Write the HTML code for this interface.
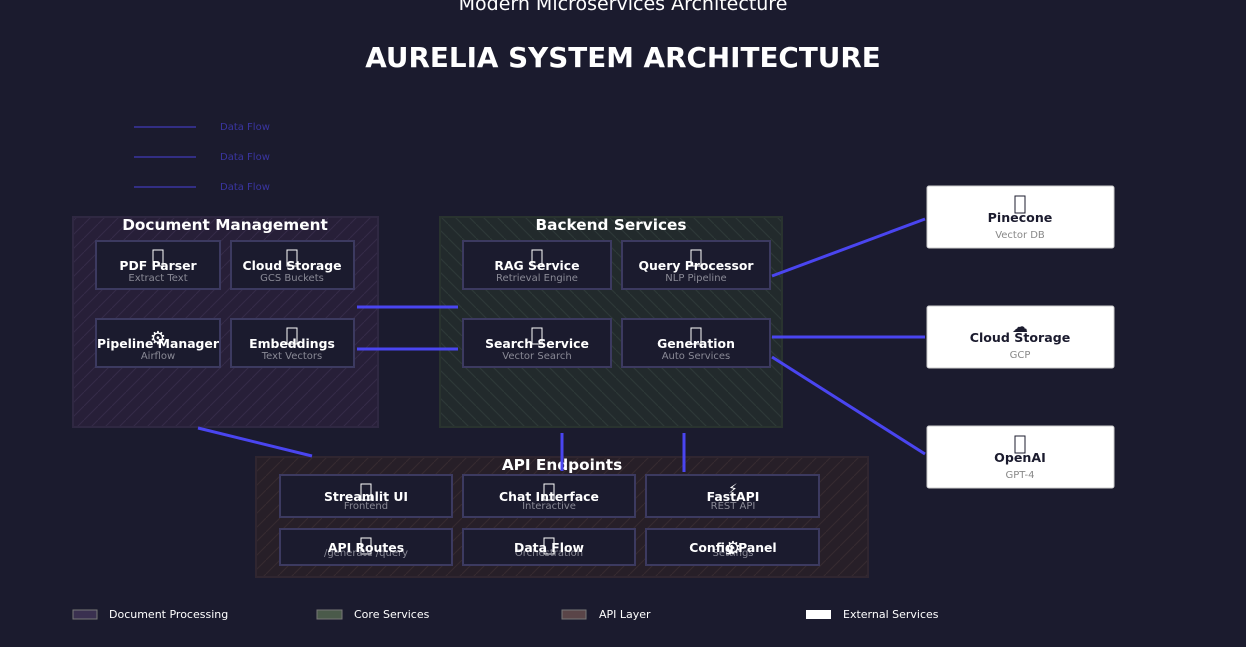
<!DOCTYPE html>
<html><head><meta charset="utf-8"><style>
html,body{margin:0;padding:0;background:#1b1b2e;}
svg{display:block;font-family:"DejaVu Sans","Liberation Sans",sans-serif;}
.nt{fill:#fff;font-weight:bold;font-size:12.4px;text-anchor:middle}
.ns{fill:#8a8a96;font-size:10px;text-anchor:middle}
.nb{fill:#1b1b2e;stroke:#3c3a60;stroke-width:2}
.gt{fill:#fff;font-weight:bold;font-size:15.3px;text-anchor:middle}
.ic{fill:none;stroke:#fff;stroke-width:1}
.ln{stroke:#4a45f0;stroke-width:3;fill:none}
.et{fill:#1b1b2e;font-weight:bold;font-size:12.6px;text-anchor:middle}
.es{fill:#888;font-size:10px;text-anchor:middle}
.lg{fill:#fff;font-size:11px}
</style></head><body>
<svg width="1246" height="647" viewBox="0 0 1246 647">
<defs>
<pattern id="h1" width="14" height="14" patternUnits="userSpaceOnUse"><path d="M0 14L14 0" stroke="#352a48" stroke-width="1"/></pattern>
<pattern id="h2" width="14" height="14" patternUnits="userSpaceOnUse"><path d="M0 0L14 14" stroke="#2e3a38" stroke-width="1"/></pattern>
<pattern id="h3" width="14" height="14" patternUnits="userSpaceOnUse"><path d="M0 14L14 0" stroke="#362a30" stroke-width="1"/></pattern>
</defs>
<text x="623" y="10" fill="#fff" font-size="19" text-anchor="middle">Modern Microservices Architecture</text>
<text x="623" y="67" fill="#fff" font-size="27.8" font-weight="bold" text-anchor="middle">AURELIA SYSTEM ARCHITECTURE</text>

<g stroke="#3a35a0" stroke-width="1.5"><line x1="134" y1="127" x2="196" y2="127"/><line x1="134" y1="157" x2="196" y2="157"/><line x1="134" y1="187" x2="196" y2="187"/></g>
<g fill="#3a35a0" font-size="10"><text x="220" y="130">Data Flow</text><text x="220" y="160">Data Flow</text><text x="220" y="190">Data Flow</text></g>

<rect x="73" y="217" width="305" height="210" fill="#271f38"/><rect x="73" y="217" width="305" height="210" fill="url(#h1)" stroke="#2f2842" stroke-width="2"/>
<rect x="440" y="217" width="342" height="210" fill="#222a2c"/><rect x="440" y="217" width="342" height="210" fill="url(#h2)" stroke="#29332f" stroke-width="2"/>
<rect x="256" y="457" width="612" height="120" fill="#271f28"/><rect x="256" y="457" width="612" height="120" fill="url(#h3)" stroke="#302630" stroke-width="2"/>
<text class="gt" x="225" y="230">Document Management</text>
<text class="gt" x="611" y="230">Backend Services</text>
<text class="gt" x="562" y="470">API Endpoints</text>

<g>
<rect class="nb" x="96" y="241" width="124" height="48"/><rect class="ic" x="153" y="250" width="10" height="16"/><text class="nt" x="158" y="270">PDF Parser</text><text class="ns" x="158" y="281">Extract Text</text>
<rect class="nb" x="231" y="241" width="123" height="48"/><rect class="ic" x="287" y="250" width="10" height="16"/><text class="nt" x="292" y="270">Cloud Storage</text><text class="ns" x="292" y="281">GCS Buckets</text>
<rect class="nb" x="96" y="319" width="124" height="48"/><text x="158" y="344" fill="#fff" font-size="18" text-anchor="middle">⚙</text><text class="nt" x="158" y="348">Pipeline Manager</text><text class="ns" x="158" y="359">Airflow</text>
<rect class="nb" x="231" y="319" width="123" height="48"/><rect class="ic" x="287" y="328" width="10" height="16"/><text class="nt" x="292" y="348">Embeddings</text><text class="ns" x="292" y="359">Text Vectors</text>

<rect class="nb" x="463" y="241" width="148" height="48"/><rect class="ic" x="532" y="250" width="10" height="16"/><text class="nt" x="537" y="270">RAG Service</text><text class="ns" x="537" y="281">Retrieval Engine</text>
<rect class="nb" x="622" y="241" width="148" height="48"/><rect class="ic" x="691" y="250" width="10" height="16"/><text class="nt" x="696" y="270">Query Processor</text><text class="ns" x="696" y="281">NLP Pipeline</text>
<rect class="nb" x="463" y="319" width="148" height="48"/><rect class="ic" x="532" y="328" width="10" height="16"/><text class="nt" x="537" y="348">Search Service</text><text class="ns" x="537" y="359">Vector Search</text>
<rect class="nb" x="622" y="319" width="148" height="48"/><rect class="ic" x="691" y="328" width="10" height="16"/><text class="nt" x="696" y="348">Generation</text><text class="ns" x="696" y="359">Auto Services</text>

<rect class="nb" x="280" y="475" width="172" height="42"/><rect class="ic" x="361" y="484" width="10" height="16"/><text class="nt" x="366" y="501">Streamlit UI</text><text class="ns" x="366" y="509">Frontend</text>
<rect class="nb" x="463" y="475" width="172" height="42"/><rect class="ic" x="544" y="484" width="10" height="16"/><text class="nt" x="549" y="501">Chat Interface</text><text class="ns" x="549" y="509">Interactive</text>
<rect class="nb" x="646" y="475" width="173" height="42"/><text x="733" y="493" fill="#fff" font-size="13" text-anchor="middle">⚡</text><text class="nt" x="733" y="501">FastAPI</text><text class="ns" x="733" y="509">REST API</text>
<rect class="nb" x="280" y="529" width="172" height="36"/><rect class="ic" x="361" y="538" width="10" height="16"/><text class="ns" x="366" y="556">/generate /query</text><text class="nt" x="366" y="552">API Routes</text>
<rect class="nb" x="463" y="529" width="172" height="36"/><rect class="ic" x="544" y="538" width="10" height="16"/><text class="ns" x="549" y="556">Orchestration</text><text class="nt" x="549" y="552">Data Flow</text>
<rect class="nb" x="646" y="529" width="173" height="36"/><text class="ns" x="733" y="556">Settings</text><text x="733" y="554" fill="#fff" font-size="18" text-anchor="middle">⚙</text><text class="nt" x="733" y="552">Config Panel</text>
</g>

<g fill="#fff" stroke="#ccc" stroke-width="1">
<rect x="927" y="186" width="187" height="62" rx="2"/><rect x="927" y="306" width="187" height="62" rx="2"/><rect x="927" y="426" width="187" height="62" rx="2"/>
</g>
<rect x="1015" y="196" width="10" height="17" fill="none" stroke="#1b1b2e"/>
<text class="et" x="1020" y="222">Pinecone</text><text class="es" x="1020" y="238">Vector DB</text>
<text x="1020" y="332" fill="#1b1b2e" font-size="16" text-anchor="middle">☁</text>
<text class="et" x="1020" y="342">Cloud Storage</text><text class="es" x="1020" y="358">GCP</text>
<rect x="1015" y="436" width="10" height="17" fill="none" stroke="#1b1b2e"/>
<text class="et" x="1020" y="462">OpenAI</text><text class="es" x="1020" y="478">GPT-4</text>

<g class="ln">
<line x1="357" y1="307" x2="458" y2="307"/><line x1="357" y1="349" x2="458" y2="349"/>
<line x1="198" y1="428" x2="312" y2="456"/>
<line x1="562" y1="433" x2="562" y2="471"/><line x1="684" y1="433" x2="684" y2="472"/>
<line x1="772" y1="276" x2="925" y2="219"/><line x1="772" y1="337" x2="925" y2="337"/><line x1="772" y1="357" x2="925" y2="454"/>
</g>

<rect x="73" y="610" width="24" height="9" fill="#3a3050" stroke="#777" stroke-width="1"/><text class="lg" x="109" y="618">Document Processing</text>
<rect x="317" y="610" width="25" height="9" fill="#4a5a4a" stroke="#777" stroke-width="1"/><text class="lg" x="354" y="618">Core Services</text>
<rect x="562" y="610" width="24" height="9" fill="#5a4548" stroke="#777" stroke-width="1"/><text class="lg" x="599" y="618">API Layer</text>
<rect x="806" y="610" width="25" height="9" fill="#fff"/><text class="lg" x="843" y="618">External Services</text>
</svg>
</body></html>
